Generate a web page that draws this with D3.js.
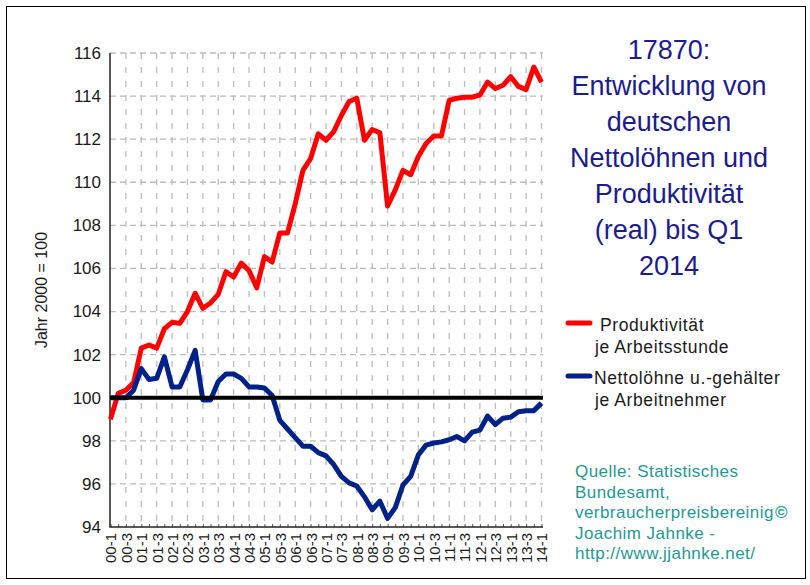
<!DOCTYPE html>
<html>
<head>
<meta charset="utf-8">
<script src="https://cdn.jsdelivr.net/npm/d3@7/dist/d3.min.js"></script>
<style>
  html, body { margin: 0; padding: 0; background: #fff; }
  svg { display: block; font-family: "Liberation Sans", Arial, sans-serif; }
</style>
</head>
<body>
<svg id="chart" width="810" height="585"></svg>
<script>
// Quarters 2000 Q1 .. 2014 Q1
const quarters = [
  '00-1', '00-2', '00-3', '00-4', '01-1', '01-2', '01-3', '01-4',
  '02-1', '02-2', '02-3', '02-4', '03-1', '03-2', '03-3', '03-4',
  '04-1', '04-2', '04-3', '04-4', '05-1', '05-2', '05-3', '05-4',
  '06-1', '06-2', '06-3', '06-4', '07-1', '07-2', '07-3', '07-4',
  '08-1', '08-2', '08-3', '08-4', '09-1', '09-2', '09-3', '09-4',
  '10-1', '10-2', '10-3', '10-4', '11-1', '11-2', '11-3', '11-4',
  '12-1', '12-2', '12-3', '12-4', '13-1', '13-2', '13-3', '13-4',
  '14-1',
];

// Produktivität je Arbeitsstunde (real), 2000 = 100
const produktivitaet = [
  99.0, 100.2, 100.35, 100.7, 102.3, 102.45, 102.3, 103.2,
  103.5, 103.45, 104.0, 104.85, 104.15, 104.4, 104.8, 105.85,
  105.6, 106.25, 105.9, 105.1, 106.55, 106.3, 107.65, 107.65,
  109.0, 110.55, 111.1, 112.25, 111.95, 112.35, 113.1, 113.75,
  113.9, 111.95, 112.45, 112.3, 108.9, 109.65, 110.55, 110.35,
  111.2, 111.8, 112.15, 112.15, 113.8, 113.9, 113.95, 113.95,
  114.05, 114.65, 114.35, 114.5, 114.9, 114.45, 114.3, 115.35,
  114.65,
];

// Nettolöhne u.-gehälter je Arbeitnehmer (real), 2000 = 100
const nettoloehne = [
  100.0, 100.0, 100.0, 100.35, 101.35, 100.85, 100.9, 101.9,
  100.5, 100.5, 101.3, 102.2, 99.9, 99.9, 100.75, 101.1,
  101.1, 100.9, 100.5, 100.5, 100.45, 100.1, 98.95, 98.55,
  98.15, 97.75, 97.75, 97.45, 97.3, 96.9, 96.35, 96.05,
  95.9, 95.4, 94.8, 95.2, 94.4, 94.9, 95.95, 96.35,
  97.35, 97.8, 97.9, 97.95, 98.05, 98.2, 98.0, 98.4,
  98.5, 99.15, 98.75, 99.05, 99.1, 99.35, 99.4, 99.4,
  99.75,
];

const yTicks = [94, 96, 98, 100, 102, 104, 106, 108, 110, 112, 114, 116];
const baseline = 100;

const titleLines = ['17870:', 'Entwicklung von', 'deutschen', 'Nettolöhnen und',
  'Produktivität', '(real) bis Q1', '2014'];
const legendItems = [
  { lines: ['Produktivität', 'je Arbeitsstunde'], color: '#ff0000' },
  { lines: ['Nettolöhne u.-gehälter', 'je Arbeitnehmer'], color: '#002288' },
];
const sourceLines = ['Quelle: Statistisches', 'Bundesamt,', 'verbraucherpreisbereinig',
  'Joachim Jahnke -', 'http://www.jjahnke.net/'];

const svg = d3.select('#chart');

// outer frame
svg.append('rect')
  .attr('x', 6.5).attr('y', 6.5)
  .attr('width', 799).attr('height', 572)
  .attr('fill', 'none')
  .attr('stroke', '#000')
  .attr('stroke-width', 1);

const plot = { left: 110, right: 543, top: 53, bottom: 527 };

const x = d3.scalePoint()
  .domain(quarters)
  .range([110.5, 541.5]);

const y = d3.scaleLinear()
  .domain([94, 116])
  .range([plot.bottom, plot.top]);

// Grid
const grid = svg.append('g')
  .attr('stroke', '#bcbcbc')
  .attr('stroke-width', 1.3);

grid.selectAll('line.h')
  .data(yTicks.filter((d) => d > 94))
  .join('line')
  .attr('class', 'h')
  .attr('x1', plot.left).attr('x2', plot.right)
  .attr('y1', (d) => y(d)).attr('y2', (d) => y(d))
  .attr('stroke-dasharray', '6,4');

grid.selectAll('line.v')
  .data(quarters.filter((d, i) => i % 2 === 0 && i > 0))
  .join('line')
  .attr('class', 'v')
  .attr('x1', (d) => x(d)).attr('x2', (d) => x(d))
  .attr('y1', plot.top).attr('y2', plot.bottom)
  .attr('stroke-dasharray', '6,8');

// Axes
const yAxis = svg.append('g')
  .attr('transform', `translate(${plot.left},0)`)
  .call(d3.axisLeft(y).tickValues(yTicks).tickSize(0).tickPadding(9));
yAxis.select('.domain').remove();
yAxis.selectAll('text')
  .attr('font-size', 17)
  .attr('fill', '#1a1a1a')
  .attr('font-family', '"Liberation Sans", Arial, sans-serif');

const xAxis = svg.append('g')
  .attr('transform', `translate(0,${plot.bottom})`)
  .call(d3.axisBottom(x)
    .tickSizeInner(-3)
    .tickSizeOuter(0)
    .tickFormat((d, i) => (i % 2 === 0 ? d : '')));
xAxis.select('.domain').remove();
xAxis.selectAll('.tick line').attr('stroke', '#555');
xAxis.selectAll('text')
  .attr('font-size', 15)
  .attr('fill', '#1a1a1a')
  .attr('font-family', '"Liberation Sans", Arial, sans-serif')
  .attr('text-anchor', 'end')
  .attr('transform', 'rotate(-90)')
  .attr('x', -6)
  .attr('y', 0)
  .attr('dy', '0.36em');

svg.append('path')
  .attr('d', `M${plot.left},${plot.top}V${plot.bottom}H${plot.right}`)
  .attr('fill', 'none')
  .attr('stroke', '#222')
  .attr('stroke-width', 1.5);

// y label
svg.append('text')
  .attr('transform', 'translate(47,290) rotate(-90)')
  .attr('text-anchor', 'middle')
  .attr('font-size', 16)
  .attr('fill', '#1a1a1a')
  .text('Jahr 2000 = 100');

// Series
const line = d3.line()
  .x((d, i) => x(quarters[i]))
  .y((d) => y(d));

svg.append('path')
  .datum(produktivitaet)
  .attr('fill', 'none')
  .attr('stroke', legendItems[0].color)
  .attr('stroke-width', 5)
  .attr('stroke-linejoin', 'round')
  .attr('d', line);

svg.append('path')
  .datum(nettoloehne)
  .attr('fill', 'none')
  .attr('stroke', legendItems[1].color)
  .attr('stroke-width', 5)
  .attr('stroke-linejoin', 'round')
  .attr('d', line);

// Basis 100
svg.append('line')
  .attr('x1', plot.left).attr('x2', plot.right)
  .attr('y1', y(baseline)).attr('y2', y(baseline))
  .attr('stroke', '#000')
  .attr('stroke-width', 4);

// Title
svg.append('text')
  .attr('x', 669)
  .attr('y', 59)
  .attr('text-anchor', 'middle')
  .attr('font-size', 27)
  .attr('fill', '#1c1c8c')
  .selectAll('tspan')
  .data(titleLines)
  .join('tspan')
  .attr('x', 669)
  .attr('dy', (d, i) => (i === 0 ? 0 : 36))
  .text((d) => d);

// Legend
const legend = svg.append('g');
const legendY = [323, 376];
const legendTextX = [600, 594];
legendItems.forEach((item, k) => {
  legend.append('line')
    .attr('x1', 568).attr('x2', 590)
    .attr('y1', legendY[k]).attr('y2', legendY[k])
    .attr('stroke', item.color)
    .attr('stroke-width', 5)
    .attr('stroke-linecap', 'round');
  legend.append('text')
    .attr('font-size', 17.5)
    .attr('letter-spacing', 0.6)
    .attr('fill', '#1a1a1a')
    .selectAll('tspan')
    .data(item.lines)
    .join('tspan')
    .attr('x', (d, i) => (i === 0 ? legendTextX[k] : 595))
    .attr('y', (d, i) => legendY[k] + 8 + i * 22)
    .text((d) => d);
});

// Source
const source = svg.append('text')
  .attr('font-size', 17)
  .attr('letter-spacing', 0.45)
  .attr('fill', '#1f9892');
source.selectAll('tspan')
  .data(sourceLines)
  .join('tspan')
  .attr('x', 575)
  .attr('y', (d, i) => 477 + i * 20.5)
  .text((d) => d);
// © sits right after the third line, as in the original
svg.append('text')
  .attr('x', 775)
  .attr('y', 518)
  .attr('font-size', 17)
  .attr('font-weight', 'bold')
  .attr('fill', '#1f9892')
  .text('©');
</script>
</body>
</html>
